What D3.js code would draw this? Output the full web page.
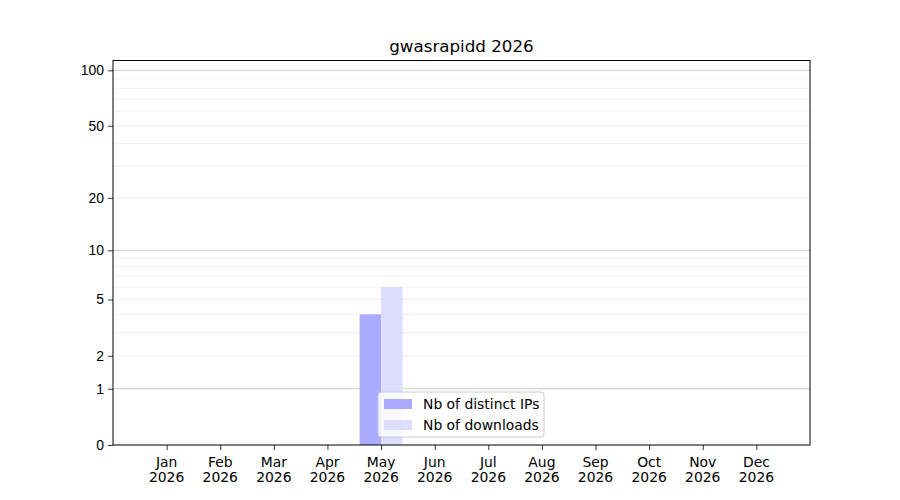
<!DOCTYPE html>
<html>
<head>
<meta charset="utf-8">
<script src="https://cdn.jsdelivr.net/npm/d3@7"></script>
<style>
  body { margin: 0; background: #fff; }
  svg { font-family: "DejaVu Sans", sans-serif; }
</style>
</head>
<body>
<div id="chart"></div>
<script>
// data
const months = ["Jan", "Feb", "Mar", "Apr", "May", "Jun", "Jul", "Aug", "Sep", "Oct", "Nov", "Dec"];
const year = "2026";
const distinctIps = [0, 0, 0, 0, 4, 0, 0, 0, 0, 0, 0, 0];
const downloads = [0, 0, 0, 0, 6, 0, 0, 0, 0, 0, 0, 0];
const yTicks = [0, 1, 2, 5, 10, 20, 50, 100];
const yMajorGrid = [1, 10, 100];
const yMinorGrid = [2, 3, 4, 5, 6, 7, 8, 9, 20, 30, 40, 50, 60, 70, 80, 90];

const width = 900, height = 500;
const margin = {top: 60.5, right: 90, bottom: 55, left: 113};
const barW = 0.4;

const svg = d3.select("#chart").append("svg")
  .attr("width", width)
  .attr("height", height);

// x: month index, with a one-month pad on each side
const x = d3.scaleLinear()
  .domain([-1, 12])
  .range([margin.left, width - margin.right]);

// y: log(1 + v)
const y = d3.scaleSymlog()
  .constant(1)
  .domain([0, 113])
  .range([height - margin.bottom, margin.top]);

// grid
svg.append("g").selectAll("line.minor")
  .data(yMinorGrid)
  .enter().append("line")
  .attr("x1", x(-1)).attr("x2", x(12))
  .attr("y1", d => y(d)).attr("y2", d => y(d))
  .attr("stroke", "#ebebeb")
  .attr("stroke-width", 0.8);

svg.append("g").selectAll("line.major")
  .data(yMajorGrid)
  .enter().append("line")
  .attr("x1", x(-1)).attr("x2", x(12))
  .attr("y1", d => y(d)).attr("y2", d => y(d))
  .attr("stroke", "#cccccc")
  .attr("stroke-width", 1);

// bars
svg.append("g").selectAll("rect")
  .data(distinctIps)
  .enter().append("rect")
  .attr("x", (d, i) => x(i - barW))
  .attr("width", x(barW) - x(0))
  .attr("y", d => y(d))
  .attr("height", d => y(0) - y(d))
  .attr("fill", "#aaaaff");

svg.append("g").selectAll("rect")
  .data(downloads)
  .enter().append("rect")
  .attr("x", (d, i) => x(i))
  .attr("width", x(barW) - x(0))
  .attr("y", d => y(d))
  .attr("height", d => y(0) - y(d))
  .attr("fill", "#ddddff");

// axes
const yAxis = d3.axisLeft(y)
  .tickValues(yTicks)
  .tickFormat(d3.format("d"))
  .tickSize(5)
  .tickPadding(4);

const gy = svg.append("g")
  .attr("transform", `translate(${margin.left},0)`)
  .call(yAxis);
gy.select(".domain").remove();
gy.selectAll("text").attr("font-size", 13.9).attr("fill", "#000");
gy.selectAll("line").attr("stroke", "#000").attr("stroke-width", 0.8);

const xAxis = d3.axisBottom(x)
  .tickValues(d3.range(months.length))
  .tickFormat("")
  .tickSize(5);

const gx = svg.append("g")
  .attr("transform", `translate(0,${height - margin.bottom})`)
  .call(xAxis);
gx.select(".domain").remove();
gx.selectAll("line").attr("stroke", "#000").attr("stroke-width", 0.8);

const xl = svg.append("g").selectAll("text")
  .data(months)
  .enter().append("text")
  .attr("x", (d, i) => x(i))
  .attr("text-anchor", "middle")
  .attr("font-size", 13.9)
  .attr("fill", "#000");
xl.append("tspan").attr("x", (d, i) => x(i)).attr("y", 467).text(d => d);
xl.append("tspan").attr("x", (d, i) => x(i)).attr("y", 482).text(year);

// frame
svg.append("rect")
  .attr("x", x(-1)).attr("y", margin.top)
  .attr("width", x(12) - x(-1))
  .attr("height", height - margin.bottom - margin.top)
  .attr("fill", "none")
  .attr("stroke", "#000")
  .attr("stroke-width", 1);

// title
svg.append("text")
  .attr("x", (x(-1) + x(12)) / 2)
  .attr("y", 52)
  .attr("text-anchor", "middle")
  .attr("font-size", 16.7)
  .text("gwasrapidd " + year);

// legend
const legend = svg.append("g");
legend.append("rect")
  .attr("x", 378).attr("y", 392)
  .attr("width", 166).attr("height", 45)
  .attr("rx", 3)
  .attr("fill", "#fff").attr("fill-opacity", 0.8)
  .attr("stroke", "#cccccc").attr("stroke-width", 1);

const items = [
  {label: "Nb of distinct IPs", color: "#aaaaff"},
  {label: "Nb of downloads", color: "#ddddff"}
];
const li = legend.selectAll("g.item")
  .data(items)
  .enter().append("g")
  .attr("transform", (d, i) => `translate(384,${399 + i * 21})`);
li.append("rect")
  .attr("width", 28).attr("height", 10)
  .attr("fill", d => d.color);
li.append("text")
  .attr("x", 39).attr("y", 10)
  .attr("font-size", 13.9)
  .text(d => d.label);
</script>
</body>
</html>
